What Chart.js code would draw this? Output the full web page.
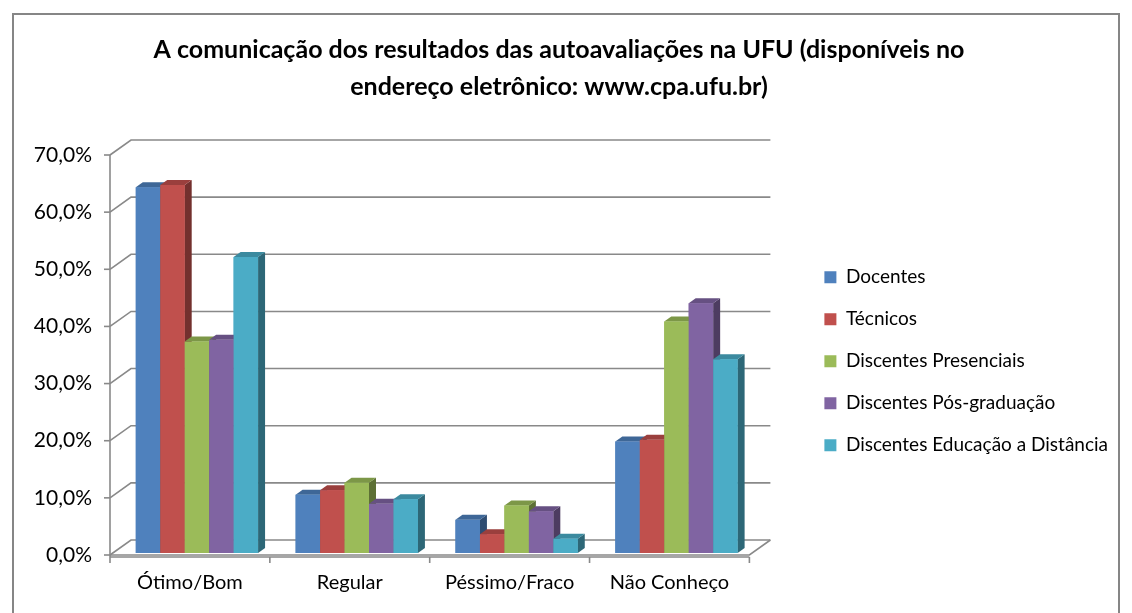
<!DOCTYPE html>
<html>
<head>
<meta charset="utf-8">
<script src="https://cdn.jsdelivr.net/npm/chart.js@4.4.1/dist/chart.umd.min.js"></script>
<style>
  html, body { margin: 0; padding: 0; background: #fff; }
  canvas { display: block; }
</style>
</head>
<body>
<canvas id="chartUfu" width="1132" height="613"></canvas>
<script>
var categories = ['Ótimo/Bom', 'Regular', 'Péssimo/Fraco', 'Não Conheço'];
var seriesNames = ['Docentes', 'Técnicos', 'Discentes Presenciais', 'Discentes Pós-graduação', 'Discentes Educação a Distância'];

// values in %
var docentes = [64.0, 10.2, 5.8, 19.5];
var tecnicos = [64.4, 11.0, 3.3, 19.8];
var presenciais = [37.0, 12.3, 8.3, 40.5];
var posGraduacao = [37.3, 8.6, 7.3, 43.7];
var educacaoDistancia = [51.8, 9.4, 2.5, 33.9];

var yMin = 0, yMax = 70, yStep = 10;

var frontColors = ['#4F81BD', '#C0504D', '#9BBB59', '#8064A2', '#4BACC6'];
var topColors = ['#3E6797', '#9A3F3D', '#7C9747', '#665082', '#3B8A9F'];
var sideColors = ['#2F4D72', '#73302E', '#5D7035', '#4D3C61', '#2D6777'];

var ctx = document.getElementById('chartUfu');

// depth of the walls and of the bars
var DX = 21, DY = -15;
var BX = 7, BY = -2;
var BDX = 7, BDY = -5;
var lineColor = '#898989';

var threeD = {
  id: 'threeD',
  beforeDraw: function (chart) {
    var c = chart.ctx;
    c.save();
    c.fillStyle = '#fff';
    c.fillRect(0, 0, chart.width, chart.height);
    c.strokeStyle = '#868686';
    c.lineWidth = 2;
    c.strokeRect(13, 14, 1106, 700);
    c.restore();
  },
  beforeDatasetsDraw: function (chart) {
    var c = chart.ctx, a = chart.chartArea, y = chart.scales.y;
    c.save();
    c.strokeStyle = lineColor;
    c.lineWidth = 1.6;
    for (var v = yMin; v <= yMax; v += yStep) {
      var py = y.getPixelForValue(v);
      c.beginPath();
      c.moveTo(a.left, py);
      c.lineTo(a.left + DX, py + DY);
      c.lineTo(a.right + DX, py + DY);
      c.stroke();
    }
    // floor
    c.beginPath();
    c.moveTo(a.left, a.bottom);
    c.lineTo(a.right, a.bottom);
    c.lineTo(a.right + DX, a.bottom + DY);
    c.stroke();
    // front vertical axis
    c.beginPath();
    c.moveTo(a.left, a.top);
    c.lineTo(a.left, a.bottom + 2);
    c.stroke();
    c.restore();

    c.save();
    c.translate(BX, BY);
  },
  afterDatasetsDraw: function (chart) {
    var c = chart.ctx, a = chart.chartArea;
    var n = chart.data.labels.length;
    for (var i = 0; i < n; i++) {
      for (var d = 0; d < chart.data.datasets.length; d++) {
        var el = chart.getDatasetMeta(d).data[i];
        var p = el.getProps(['x', 'y', 'base', 'width'], true);
        var l = p.x - p.width / 2, r = p.x + p.width / 2;
        c.fillStyle = sideColors[d];
        c.beginPath();
        c.moveTo(r, p.y); c.lineTo(r + BDX, p.y + BDY);
        c.lineTo(r + BDX, p.base + BDY); c.lineTo(r, p.base);
        c.closePath(); c.fill();
        c.fillStyle = topColors[d];
        c.beginPath();
        c.moveTo(l, p.y); c.lineTo(l + BDX, p.y + BDY);
        c.lineTo(r + BDX, p.y + BDY); c.lineTo(r, p.y);
        c.closePath(); c.fill();
        c.fillStyle = frontColors[d];
        c.fillRect(l, p.y, p.width, p.base - p.y);
      }
    }
    c.restore();

    // tick marks
    var y = chart.scales.y;
    c.save();
    c.strokeStyle = lineColor;
    c.lineWidth = 1.6;
    for (var v = yMin; v <= yMax; v += yStep) {
      var py = y.getPixelForValue(v);
      c.beginPath(); c.moveTo(a.left - 6, py); c.lineTo(a.left, py); c.stroke();
    }
    var cw = (a.right - a.left) / n;
    c.beginPath();
    c.moveTo(a.left, a.bottom + 2); c.lineTo(a.right, a.bottom + 2);
    c.stroke();
    for (var k = 0; k <= n; k++) {
      var px = a.left + k * cw;
      c.beginPath(); c.moveTo(px, a.bottom + 2); c.lineTo(px, a.bottom + 8); c.stroke();
    }
    c.restore();
  }
};

var datasets = [docentes, tecnicos, presenciais, posGraduacao, educacaoDistancia].map(function (vals, i) {
  return {
    label: seriesNames[i],
    data: vals,
    backgroundColor: frontColors[i],
    borderWidth: 0
  };
});

var chart = new Chart(ctx, {
  type: 'bar',
  data: { labels: categories, datasets: datasets },
  plugins: [threeD],
  options: {
    responsive: false,
    animation: false,
    layout: { padding: { left: 0, right: 14, top: 0, bottom: 0 } },
    datasets: {
      bar: { categoryPercentage: 0.765, barPercentage: 1.0 }
    },
    scales: {
      x: {
        grid: { display: false, drawTicks: false },
        border: { display: false },
        ticks: { color: '#000', font: { family: 'Lato', size: 20 }, padding: 16 },
        afterFit: function (s) { s.height = 58; }
      },
      y: {
        min: yMin, max: yMax,
        grid: { display: false, drawTicks: false },
        border: { display: false },
        ticks: {
          stepSize: yStep, color: '#000', padding: 18,
          font: { family: 'Lato', size: 21 },
          callback: function (v) { return v.toFixed(1).replace('.', ',') + '%'; }
        },
        afterFit: function (s) { s.width = 110; }
      },
      gap: {
        position: 'right',
        display: true,
        grid: { display: false, drawTicks: false },
        border: { display: false },
        ticks: { display: false },
        afterFit: function (s) { s.width = 52; }
      }
    },
    plugins: {
      title: {
        display: true,
        text: ['A comunicação dos resultados das autoavaliações na UFU (disponíveis no', 'endereço eletrônico: www.cpa.ufu.br)'],
        color: '#000',
        font: { family: 'Lato', size: 25, weight: 'bold', lineHeight: 1.5 },
        padding: { top: 31, bottom: 49 }
      },
      legend: {
        position: 'right',
        fullSize: false,
        maxWidth: 420,
        title: { display: true, text: ' ', font: { size: 2 }, padding: 5 },
        labels: {
          color: '#000',
          font: { family: 'Lato', size: 19 },
          boxWidth: 12, boxHeight: 12,
          padding: 23
        }
      },
      tooltip: { enabled: false }
    }
  }
});
</script>
</body>
</html>
